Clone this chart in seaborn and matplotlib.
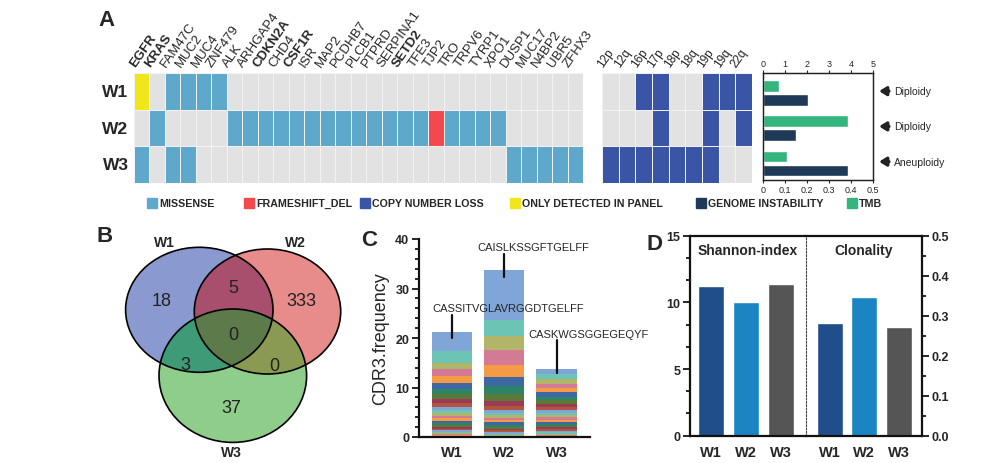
import numpy as np
import pandas as pd
import seaborn as sns
import matplotlib.pyplot as plt
from matplotlib.colors import ListedColormap, to_rgba
from matplotlib.patches import Ellipse, Rectangle
from matplotlib.ticker import MultipleLocator, AutoMinorLocator, FormatStrFormatter

sns.set_style("white")
plt.rcParams['font.family'] = ['Liberation Sans', 'DejaVu Sans']

# ---- data: panel A ----
samples = ['W1', 'W2', 'W3']
genes = ['EGFR', 'KRAS', 'FAM47C', 'MUC2', 'MUC4', 'ZNF479', 'ALK', 'ARHGAP4',
         'CDKN2A', 'CHD4', 'CSF1R', 'ISR', 'MAP2', 'PCDHB7', 'PLCB1', 'PTPRD',
         'SERPINA1', 'SETD2', 'TFE3', 'TJP2', 'TRO', 'TRPV6', 'TYRP1', 'XPO1',
         'DUSP1', 'MUC17', 'N4BP2', 'UBR5', 'ZFHX3']
bold_genes = ['EGFR', 'KRAS', 'CDKN2A', 'CSF1R', 'SETD2']
arms = ['12p', '12q', '16p', '17p', '18p', '18q', '19p', '19q', '22q']

missense_W1 = ['FAM47C', 'MUC2', 'MUC4', 'ZNF479']
missense_W2 = ['KRAS', 'ALK', 'ARHGAP4', 'CDKN2A', 'CHD4', 'CSF1R', 'ISR', 'MAP2',
               'PCDHB7', 'PLCB1', 'PTPRD', 'SERPINA1', 'SETD2', 'TFE3', 'TRO',
               'TRPV6', 'TYRP1', 'XPO1']
missense_W3 = ['EGFR', 'FAM47C', 'MUC2', 'DUSP1', 'MUC17', 'N4BP2', 'UBR5', 'ZFHX3']
frameshift_W2 = ['TJP2']
panel_only_W1 = ['EGFR']

cn_loss_W1 = ['16p', '17p', '19p', '19q', '22q']
cn_loss_W2 = ['17p', '19p', '22q']
cn_loss_W3 = ['12p', '12q', '16p', '17p', '18p', '18q', '19p']

tmb = [0.73, 3.86, 1.08]
genome_instability = [0.205, 0.149, 0.385]
ploidy = ['Diploidy', 'Diploidy', 'Aneuploidy']

legend_labels = ['MISSENSE', 'FRAMESHIFT_DEL', 'COPY NUMBER LOSS',
                 'ONLY DETECTED IN PANEL', 'GENOME INSTABILITY', 'TMB']

# ---- data: panel B (venn counts) ----
venn_W1_only, venn_W2_only, venn_W3_only = 18, 333, 37
venn_W1_W2, venn_W1_W3, venn_W2_W3, venn_all = 5, 3, 0, 0

# ---- data: panel C (CDR3 clone frequencies, top clone first) ----
cdr3_W1 = [4.0, 2.3, 1.3, 1.4, 1.3, 1.4, 1.0, 0.9, 0.8, 0.9,
           0.6, 0.6, 0.5, 0.5, 0.5, 0.4, 0.4, 0.4, 0.4, 0.3,
           0.3, 0.3, 0.2, 0.2, 0.2, 0.2]
cdr3_W2 = [10.0, 3.2, 3.0, 3.0, 2.3, 1.9, 1.6, 1.4, 1.0, 0.8,
           0.6, 0.5, 0.5, 0.5, 0.45, 0.45, 0.4, 0.4, 0.35, 0.35,
           0.3, 0.25, 0.25, 0.2]
cdr3_W3 = [1.0, 1.1, 0.9, 0.9, 0.9, 0.9, 0.7, 0.7, 0.7, 0.6,
           0.5, 0.5, 0.45, 0.45, 0.4, 0.4, 0.4, 0.35, 0.35, 0.3,
           0.3, 0.3, 0.25, 0.25, 0.2]
top_clones = ['CASSITVGLAVRGGDTGELFF', 'CAISLKSSGFTGELFF', 'CASKWGSGGEGEQYF']

# ---- data: panel D ----
shannon = [11.2, 10.0, 11.35]
clonality = [0.282, 0.347, 0.272]

# ---- colours ----
c_gray, c_mis, c_fs, c_cn, c_panel = '#e2e2e2', '#5ea9cb', '#f2484e', '#3a54a6', '#f0e61a'
c_gi, c_tmb = '#1f3a58', '#35b57e'
d_colors = ['#1f4e8a', '#1b84c3', '#555555']

fig = plt.figure(figsize=(9.99, 4.64), dpi=100)


def fax(x0, y0, x1, y1):
    # axes from pixel box (top-left origin)
    return fig.add_axes([x0 / 999, 1 - y1 / 464, (x1 - x0) / 999, (y1 - y0) / 464])


# ---------------- Panel A: mutation heatmap ----------------
mut = np.zeros((3, len(genes)))
for r, (mis, fs, po) in enumerate([(missense_W1, [], panel_only_W1),
                                   (missense_W2, frameshift_W2, []),
                                   (missense_W3, [], [])]):
    for g in mis:
        mut[r, genes.index(g)] = 1
    for g in fs:
        mut[r, genes.index(g)] = 2
    for g in po:
        mut[r, genes.index(g)] = 4
cn = np.zeros((3, len(arms)))
for r, lst in enumerate([cn_loss_W1, cn_loss_W2, cn_loss_W3]):
    for a in lst:
        cn[r, arms.index(a)] = 3

cmap = ListedColormap([c_gray, c_mis, c_fs, c_cn, c_panel])
ax1 = fax(134, 74, 583, 184)
sns.heatmap(pd.DataFrame(mut, index=samples, columns=genes), cmap=cmap, vmin=-0.5, vmax=4.5,
            cbar=False, linewidths=0.5, linecolor='#f2f2f2', xticklabels=False,
            yticklabels=False, ax=ax1)
for j, g in enumerate(genes):
    ax1.text(j + 0.2, -0.12, g, rotation=55, rotation_mode='anchor', ha='left', va='bottom',
             fontsize=9.5, weight='bold' if g in bold_genes else 'normal', clip_on=False)
for i, s in enumerate(samples):
    ax1.text(-0.35, i + 0.5, s, ha='right', va='center', fontsize=12.5, weight='bold')
ax1.text(-2.3, -1.45, 'A', fontsize=16, weight='bold', ha='left', va='center')

ax2 = fax(602, 74, 752, 184)
sns.heatmap(pd.DataFrame(cn, index=samples, columns=arms), cmap=cmap, vmin=-0.5, vmax=4.5,
            cbar=False, linewidths=0.5, linecolor='#f2f2f2', xticklabels=False,
            yticklabels=False, ax=ax2)
for j, a in enumerate(arms):
    ax2.text(j + 0.2, -0.12, a, rotation=55, rotation_mode='anchor', ha='left', va='bottom',
             fontsize=8.5, color='#222222', clip_on=False)

# TMB / genome instability bars
axb = fax(763, 74, 873, 181)
y = np.arange(3)
axb.barh(y + 0.2, genome_instability, height=0.33, color=c_gi)
axb.set_xlim(0, 0.5)
axb.set_xticks(np.arange(0, 0.51, 0.1))
axb.set_xticklabels(['0', '0.1', '0.2', '0.3', '0.4', '0.5'])
axt = axb.twiny()
axt.barh(y - 0.2, tmb, height=0.33, color=c_tmb)
axt.set_xlim(0, 5)
axt.set_xticks(range(6))
axb.set_ylim(2.47, -0.565)
axb.set_yticks([])
for a in (axb, axt):
    a.tick_params(axis='x', labelsize=6.5, length=2.5, width=0.8, pad=1, direction='out')
    for sp in a.spines.values():
        sp.set_linewidth(0.9)
        sp.set_color('#222222')
tr = axb.get_yaxis_transform()
for i, p in enumerate(ploidy):
    axb.annotate('', xy=(1.03, i - 0.05), xytext=(1.17, i - 0.05), xycoords=tr, textcoords=tr,
                 arrowprops=dict(arrowstyle='-|>,head_length=0.4,head_width=0.25',
                                 lw=2.4, color='#222222'), annotation_clip=False)
    axb.text(1.19, i - 0.05, p, transform=tr, fontsize=7.5, va='center', ha='left')

# legend row
leg_colors = [c_mis, c_fs, c_cn, c_panel, c_gi, c_tmb]
leg_x = [147, 244, 360, 510, 696, 847]
for x, col, lab in zip(leg_x, leg_colors, legend_labels):
    fig.patches.append(Rectangle((x / 999, 1 - 209 / 464), 10 / 999, 10 / 464, color=col,
                                 transform=fig.transFigure, figure=fig))
    fig.text((x + 12) / 999, 1 - 204 / 464, lab, fontsize=7.7, weight='bold',
             ha='left', va='center')

# ---------------- Panel B: venn ----------------
axv = fax(90, 225, 370, 464)
axv.set_xlim(90, 370)
axv.set_ylim(464, 225)
axv.axis('off')
circles = [(199.3, 310.8, 73.7, 62.5), (267.5, 312.5, 73.2, 62.5), (232.8, 376.7, 73.8, 66.7)]
X, Y = np.meshgrid(np.linspace(90, 370, 840), np.linspace(225, 464, 717))
code = np.zeros(X.shape, dtype=int)
for k, (cx, cy, rx, ry) in enumerate(circles):
    code += (((X - cx) / rx) ** 2 + ((Y - cy) / ry) ** 2 <= 1).astype(int) << k
region_colors = {0: (1, 1, 1, 0), 1: to_rgba('#8a9bd0'), 2: to_rgba('#e88b8b'), 4: to_rgba('#8fcd8c'),
                 3: to_rgba('#a9506e'), 5: to_rgba('#3f9a78'), 6: to_rgba('#8a9a52'),
                 7: to_rgba('#5e7a4a')}
img = np.zeros(X.shape + (4,))
for k, c in region_colors.items():
    img[code == k] = c
axv.imshow(img, extent=(90, 370, 464, 225), interpolation='bilinear', aspect='auto')
for cx, cy, rx, ry in circles:
    axv.add_patch(Ellipse((cx, cy), 2 * rx, 2 * ry, fill=False, lw=1.2, ec='black'))
counts = [(161.7, 301.7, venn_W1_only), (233.3, 288.3, venn_W1_W2), (301.7, 301.7, venn_W2_only),
          (233.3, 335, venn_all), (185.7, 365, venn_W1_W3), (274.3, 366.7, venn_W2_W3),
          (231.7, 408.3, venn_W3_only)]
for x, yy, v in counts:
    axv.text(x, yy, str(v), ha='center', va='center', fontsize=13, color='#222222')
for x, yy, s in [(164, 243.3, 'W1'), (295, 243.3, 'W2'), (231.7, 453.3, 'W3')]:
    axv.text(x, yy, s, ha='center', va='center', fontsize=10, weight='bold')
axv.text(105, 237, 'B', ha='center', va='center', fontsize=16, weight='bold')

# ---------------- Panel C: CDR3 stacked bars ----------------
axc = fax(419, 240, 590, 438)
seg_colors = ['#7fa6d6', '#6cc4b4', '#b0b56a', '#d57a95', '#f59a45',
              '#3d68a3', '#2b8466', '#5b7a3a', '#9a3a55', '#b0563f']
for i, segs in enumerate([cdr3_W1, cdr3_W2, cdr3_W3]):
    top = sum(segs)
    for k, v in enumerate(segs):
        axc.bar(i, v, bottom=top - v, width=0.77, color=seg_colors[k % 10], edgecolor='none')
        top -= v
ann = [(24.7, 20.0, 26.1, -0.38), (37.0, 32.4, 38.4, 0.48), (19.6, 13.0, 20.8, 1.46)]
for i, (y0, y1, ty, tx) in enumerate(ann):
    axc.plot([i, i], [y0, y1], color='#111111', lw=1.6)
    axc.text(tx, ty, top_clones[i], fontsize=8, ha='left', va='center', clip_on=False)
axc.set_xlim(-0.63, 2.64)
axc.set_ylim(0, 40)
axc.set_xticks([0, 1, 2])
axc.set_xticklabels(samples, fontsize=10.5, weight='bold')
axc.yaxis.set_major_locator(MultipleLocator(10))
axc.yaxis.set_minor_locator(MultipleLocator(2))
axc.tick_params(axis='y', which='both', left=True, direction='out', width=1.4)
axc.tick_params(axis='y', which='major', length=5, labelsize=9, pad=2)
axc.tick_params(axis='y', which='minor', length=3)
axc.tick_params(axis='x', bottom=False, pad=2)
for t in axc.get_yticklabels():
    t.set_weight('bold')
axc.set_ylabel('CDR3.frequency', fontsize=13, labelpad=4)
sns.despine(ax=axc)
for sp in ('left', 'bottom'):
    axc.spines[sp].set_linewidth(1.6)
    axc.spines[sp].set_color('#111111')
axc.text(-1.58, 40, 'C', fontsize=16, weight='bold', ha='center', va='center', clip_on=False)

# ---------------- Panel D: diversity ----------------
axd1 = fax(690, 236.7, 805.7, 436.7)
axd2 = fax(805.7, 236.7, 921.7, 436.7)
axd2.set_facecolor('none')
sns.barplot(x=samples, y=shannon, hue=samples, palette=d_colors, width=0.75, saturation=1,
            legend=False, ax=axd1)
sns.barplot(x=samples, y=clonality, hue=samples, palette=d_colors, width=0.75, saturation=1,
            legend=False, ax=axd2)
axd1.set_xlim(-0.6, 2.72)
axd2.set_xlim(-0.69, 2.65)
axd1.set_ylim(0, 15)
axd2.set_ylim(0, 0.5)
axd1.yaxis.set_major_locator(MultipleLocator(5))
axd1.yaxis.set_minor_locator(AutoMinorLocator(3))
axd2.yaxis.set_major_locator(MultipleLocator(0.1))
axd2.yaxis.set_minor_locator(AutoMinorLocator(2))
axd2.yaxis.set_major_formatter(FormatStrFormatter('%.1f'))
axd2.yaxis.tick_right()
for a, side in ((axd1, 'left'), (axd2, 'right')):
    a.tick_params(axis='y', which='both', direction='out', width=1.4,
                  left=(side == 'left'), right=(side == 'right'))
    a.tick_params(axis='y', which='major', length=5, labelsize=9, pad=2)
    a.tick_params(axis='y', which='minor', length=3)
    a.tick_params(axis='x', bottom=False, labelsize=10.5, pad=3)
    for t in a.get_yticklabels() + a.get_xticklabels():
        t.set_weight('bold')
    for sp in a.spines.values():
        sp.set_linewidth(1.6)
        sp.set_color('#111111')
axd1.spines['right'].set_linestyle((0, (1.5, 1.5)))
axd1.spines['right'].set_linewidth(0.8)
axd1.spines['right'].set_color('#444444')
axd1.spines['right'].set_zorder(5)
axd2.spines['left'].set_visible(False)
axd1.text(0.5, 0.93, 'Shannon-index', transform=axd1.transAxes, ha='center', va='center',
          fontsize=10, weight='bold')
axd2.text(0.5, 0.93, 'Clonality', transform=axd2.transAxes, ha='center', va='center',
          fontsize=10, weight='bold')
fig.text(655 / 999, 1 - 245 / 464, 'D', fontsize=16, weight='bold', ha='center', va='center')

fig.savefig('out.png', dpi=100)
